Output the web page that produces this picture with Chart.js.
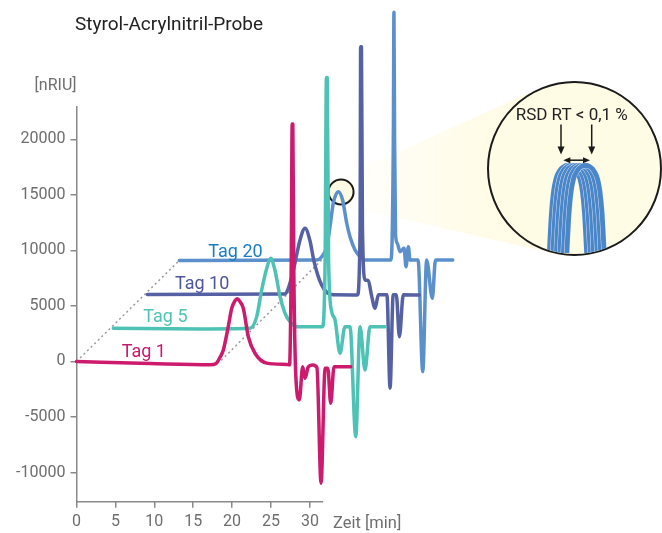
<!DOCTYPE html>
<html>
<head>
<meta charset="utf-8">
<script src="https://cdn.jsdelivr.net/npm/chart.js@4.4.1/dist/chart.umd.min.js"></script>
<style>
  html, body { margin: 0; padding: 0; background: #fff; }
  #wrap { position: relative; width: 662px; height: 533px; overflow: hidden; }
  canvas { display: block; }
  #zoom {
    position: absolute; left: 486.5px; top: 81px; width: 175px; height: 175px;
    box-sizing: border-box; border: 2.5px solid #1b1b1b; border-radius: 50%;
    background: #fffce6; overflow: hidden;
  }
</style>
</head>
<body>
<div id="wrap">
  <canvas id="chart" width="662" height="533"></canvas>
  <div id="zoom"><canvas id="inset" width="170" height="170"></canvas></div>
</div>
<script>
// Chromatograms as plotted (time in min, signal in nRIU incl. waterfall offset)
const tag1Time = [0, 9.5, 17.2, 17.9, 18.45, 18.87, 19.5, 19.95, 20.35, 20.67, 21.0, 21.44, 22.08, 22.94, 24.45, 27.0, 27.38, 27.6, 27.72, 27.8, 27.92, 28.2, 28.64, 29.07, 29.37, 29.8, 30.4, 30.9, 31.43, 31.95, 32.3, 32.67, 33.1, 35.24];
const tag1Signal = [0, -180, -290, -200, 380, 1040, 3130, 4790, 5450, 5650, 5400, 4790, 2230, 740, -150, -270, -300, 9000, 21400, 21400, 9000, -1500, -3460, -470, -1520, -470, -320, -550, -10960, -610, -600, -3770, -470, -470];

const tag5Time = [4.73, 15.9, 22.3, 23.16, 23.8, 24.45, 24.96, 25.5, 26.16, 26.8, 27.44, 28.3, 31.6, 31.95, 32.12, 32.22, 32.4, 32.8, 33.23, 33.87, 34.5, 35.15, 35.89, 36.44, 37.08, 37.72, 39.65];
const tag5Signal = [2990, 2930, 2990, 4040, 6440, 8400, 9300, 8240, 5840, 4340, 3590, 3130, 3130, 9000, 25570, 25570, 9000, 4490, 3740, 740, 3130, 3130, -6770, 3130, -770, 3130, 3130];

const tag10Time = [9.1, 26.8, 27.22, 27.87, 28.73, 29.37, 30.0, 30.5, 31.0, 31.5, 32.2, 33.0, 36.1, 36.45, 36.52, 36.62, 36.75, 37.1, 37.5, 37.9, 38.38, 38.8, 39.9, 40.3, 40.7, 41.1, 41.5, 42.0, 44.06];
const tag10Signal = [6040, 6080, 6590, 8200, 10950, 12000, 10900, 9100, 7800, 6900, 6200, 6000, 5990, 12000, 28360, 28360, 12000, 7340, 7300, 6000, 4790, 6000, 6000, -2410, 6000, 6000, 2230, 6000, 5990];

const tag20Time = [13.21, 30.87, 31.52, 32.16, 32.58, 33.0, 33.65, 34.2, 34.73, 35.15, 35.8, 36.44, 37.08, 40.42, 40.72, 40.8, 40.88, 41.0, 41.23, 41.58, 42.1, 42.35, 42.65, 42.87, 43.9, 44.5, 45.0, 45.73, 46.14, 48.36];
const tag20Signal = [9100, 9140, 9440, 10340, 12140, 14250, 15300, 14550, 12450, 11240, 10040, 9440, 9140, 9140, 20000, 31460, 20000, 11500, 10650, 9890, 10200, 8540, 10340, 9140, 9140, -920, 9140, 5690, 9140, 9140];

// dotted guide lines of the waterfall
const guideStartTime = [0, 13.21];
const guideStartSignal = [0, 9100];
const guidePeakTime = [18.6, 31.5];
const guidePeakSignal = [100, 9140];

const tagNames = ['Tag 1', 'Tag 5', 'Tag 10', 'Tag 20'];
const tagLabelTime = [5.81, 8.59, 12.66, 16.94];
const tagLabelSignal = [430, 3585, 6530, 9440];

const xTicks = [0, 5, 10, 15, 20, 25, 30];
const yTicks = [-10000, -5000, 0, 5000, 10000, 15000, 20000];

// magnified peak apex (inset): retention shifts of the overlaid runs
const insetShifts = [-8.5, -5, -1.5, 2, 5.5, 9];
const insetPeakX = [-19, -18, -16.5, -14.5, -12, -8, -4, 0, 4, 8, 12, 14.5, 16.5, 18, 19];
const insetPeakY = [0, 22, 50, 72, 86, 95, 99, 100, 99, 95, 86, 72, 50, 22, 0];

// styling
const tagColors = ['#cc1b6d', '#4ec2b4', '#5661a3', '#5b90cc'];
const tagTextColors = ['#c8186c', '#4dc4b4', '#4d559f', '#1a7dc4'];
const loupeCenter = [34.0, 15270];
const loupeRadius = 12.5;
const bigCircle = { x: 574, y: 168.5, r: 87.5 };
const xAxisEnd = 31.7;

Chart.defaults.font.family = 'Roboto, "Liberation Sans", sans-serif';

const zip = (xs, ys) => xs.map((v, i) => ({ x: v, y: ys[i] }));

function trace(label, xs, ys, color) {
  return {
    label: label,
    data: zip(xs, ys),
    borderColor: color,
    borderWidth: 3.5,
    pointRadius: 0,
    cubicInterpolationMode: 'monotone',
    borderJoinStyle: 'round',
    borderCapStyle: 'round',
    clip: false
  };
}

function guide(xs, ys) {
  return {
    data: zip(xs, ys),
    borderColor: '#9a9a9a',
    borderWidth: 1.5,
    borderDash: [2, 3],
    pointRadius: 0,
    clip: false
  };
}

const decor = {
  id: 'decor',
  beforeDatasetsDraw(chart) {
    const { ctx, scales: { x, y }, chartArea } = chart;
    const cx = x.getPixelForValue(loupeCenter[0]);
    const cy = y.getPixelForValue(loupeCenter[1]);

    // cone from the loupe to the magnified view
    const dx = bigCircle.x - cx, dy = bigCircle.y - cy;
    const d = Math.hypot(dx, dy);
    const th = Math.atan2(dy, dx);
    const al = Math.acos((loupeRadius - bigCircle.r) / d);
    const pt = (px, py, r, a) => [px + r * Math.cos(a), py + r * Math.sin(a)];
    const a1 = pt(cx, cy, loupeRadius, th - al);
    const a2 = pt(bigCircle.x, bigCircle.y, bigCircle.r, th - al);
    const b1 = pt(cx, cy, loupeRadius, th + al);
    const b2 = pt(bigCircle.x, bigCircle.y, bigCircle.r, th + al);
    const g = ctx.createLinearGradient(cx, 0, bigCircle.x - bigCircle.r, 0);
    g.addColorStop(0, 'rgba(255,250,222,0.05)');
    g.addColorStop(1, 'rgba(255,250,222,0.75)');
    ctx.save();
    ctx.beginPath();
    ctx.moveTo(a1[0], a1[1]);
    ctx.lineTo(a2[0], a2[1]);
    ctx.lineTo(bigCircle.x, bigCircle.y);
    ctx.lineTo(b2[0], b2[1]);
    ctx.lineTo(b1[0], b1[1]);
    ctx.closePath();
    ctx.fillStyle = g;
    ctx.fill();

    // loupe circle
    ctx.beginPath();
    ctx.arc(cx, cy, loupeRadius, 0, Math.PI * 2);
    ctx.fillStyle = '#fffbe3';
    ctx.fill();
    ctx.lineWidth = 2;
    ctx.strokeStyle = '#1b1b1b';
    ctx.stroke();

    // x axis line only up to ~32 min
    ctx.beginPath();
    ctx.moveTo(x.getPixelForValue(0), chartArea.bottom);
    ctx.lineTo(x.getPixelForValue(xAxisEnd), chartArea.bottom);
    ctx.lineWidth = 1.5;
    ctx.strokeStyle = '#8a8a8a';
    ctx.stroke();
    ctx.restore();
  },
  afterDatasetsDraw(chart) {
    const { ctx, scales: { x, y } } = chart;
    ctx.save();
    ctx.font = '18px Roboto';
    ctx.textBaseline = 'alphabetic';
    ctx.textAlign = 'left';
    tagNames.forEach((name, i) => {
      ctx.fillStyle = tagTextColors[i];
      ctx.fillText(name, x.getPixelForValue(tagLabelTime[i]), y.getPixelForValue(tagLabelSignal[i]));
    });
    ctx.restore();
  },
  afterDraw(chart) {
    const { ctx, chartArea } = chart;
    ctx.save();
    ctx.textBaseline = 'alphabetic';
    ctx.fillStyle = '#222';
    ctx.font = '19px Roboto';
    ctx.textAlign = 'left';
    ctx.fillText('Styrol-Acrylnitril-Probe', 75, 30);
    ctx.fillStyle = '#6e6e6e';
    ctx.font = '16px Roboto';
    ctx.textAlign = 'right';
    ctx.fillText('[nRIU]', chartArea.left, 90);
    ctx.textAlign = 'left';
    ctx.font = '16.5px Roboto';
    ctx.fillText('Zeit [min]', 333, 528);
    ctx.restore();
  }
};

new Chart(document.getElementById('chart'), {
  type: 'line',
  data: {
    datasets: [
      trace('Tag 1', tag1Time, tag1Signal, tagColors[0]),
      trace('Tag 5', tag5Time, tag5Signal, tagColors[1]),
      trace('Tag 10', tag10Time, tag10Signal, tagColors[2]),
      trace('Tag 20', tag20Time, tag20Signal, tagColors[3]),
      guide(guideStartTime, guideStartSignal),
      guide(guidePeakTime, guidePeakSignal)
    ]
  },
  options: {
    responsive: false,
    animation: false,
    layout: { padding: { top: 106.7, left: 0, right: 0, bottom: 0 } },
    plugins: { legend: { display: false }, tooltip: { enabled: false } },
    scales: {
      x: {
        type: 'linear',
        min: 0,
        max: 75.25,
        afterBuildTicks: (axis) => { axis.ticks = xTicks.map(v => ({ value: v })); },
        afterFit: (axis) => { axis.height = 31.3; },
        border: { display: false },
        grid: { drawOnChartArea: false, drawTicks: true, tickLength: 6, color: '#8a8a8a', lineWidth: 1.5 },
        ticks: { autoSkip: false, maxRotation: 0, padding: 5, color: '#6e6e6e', font: { size: 16 } }
      },
      y: {
        type: 'linear',
        min: -12630,
        max: 22950,
        afterBuildTicks: (axis) => { axis.ticks = yTicks.map(v => ({ value: v })); },
        afterFit: (axis) => { axis.width = 76.5; },
        border: { display: true, color: '#8a8a8a', width: 1.5 },
        grid: { drawOnChartArea: false, drawTicks: true, tickLength: 6, color: '#8a8a8a', lineWidth: 1.5 },
        ticks: { padding: 5, color: '#6e6e6e', font: { size: 16 }, callback: (v) => String(v) }
      }
    }
  },
  plugins: [decor]
});

// magnified inset
const insetDecor = {
  id: 'insetDecor',
  afterDraw(chart) {
    const ctx = chart.ctx;
    ctx.save();
    ctx.fillStyle = '#222';
    ctx.font = '17px Roboto';
    ctx.textAlign = 'center';
    ctx.textBaseline = 'alphabetic';
    ctx.fillText('RSD RT < 0,1 %', 82.7, 36.5);
    ctx.strokeStyle = '#1b1b1b';
    ctx.fillStyle = '#1b1b1b';
    ctx.lineWidth = 1.5;
    const down = (px, y0, y1) => {
      ctx.beginPath(); ctx.moveTo(px, y0); ctx.lineTo(px, y1 - 6); ctx.stroke();
      ctx.beginPath(); ctx.moveTo(px - 3.5, y1 - 8); ctx.lineTo(px + 3.5, y1 - 8); ctx.lineTo(px, y1); ctx.closePath(); ctx.fill();
    };
    down(72, 41.5, 71.5);
    down(102.7, 41.5, 71.5);
    const hy = 77.2, hx0 = 74.3, hx1 = 101;
    ctx.beginPath(); ctx.moveTo(hx0 + 5, hy); ctx.lineTo(hx1 - 5, hy); ctx.stroke();
    ctx.beginPath(); ctx.moveTo(hx0, hy); ctx.lineTo(hx0 + 7, hy - 3); ctx.lineTo(hx0 + 7, hy + 3); ctx.closePath(); ctx.fill();
    ctx.beginPath(); ctx.moveTo(hx1, hy); ctx.lineTo(hx1 - 7, hy - 3); ctx.lineTo(hx1 - 7, hy + 3); ctx.closePath(); ctx.fill();
    ctx.restore();
  }
};

const insetSets = [];
insetShifts.forEach((s, i) => {
  const pts = zip(insetPeakX.map(v => v + s), insetPeakY);
  const common = { data: pts, pointRadius: 0, cubicInterpolationMode: 'monotone', clip: false };
  insetSets.push(Object.assign({}, common, { borderColor: '#e8f0fa', borderWidth: 5.6, order: 100 - 2 * i }));
  insetSets.push(Object.assign({}, common, { borderColor: '#4a86c8', borderWidth: 4.8, order: 99 - 2 * i }));
});

new Chart(document.getElementById('inset'), {
  type: 'line',
  data: { datasets: insetSets },
  options: {
    responsive: false,
    animation: false,
    layout: { padding: 0 },
    plugins: { legend: { display: false }, tooltip: { enabled: false } },
    scales: {
      x: { type: 'linear', display: false, min: -87.5, max: 82.5 },
      y: { type: 'linear', display: false, min: 7.89, max: 186.84 }
    }
  },
  plugins: [insetDecor]
});
</script>
</body>
</html>
